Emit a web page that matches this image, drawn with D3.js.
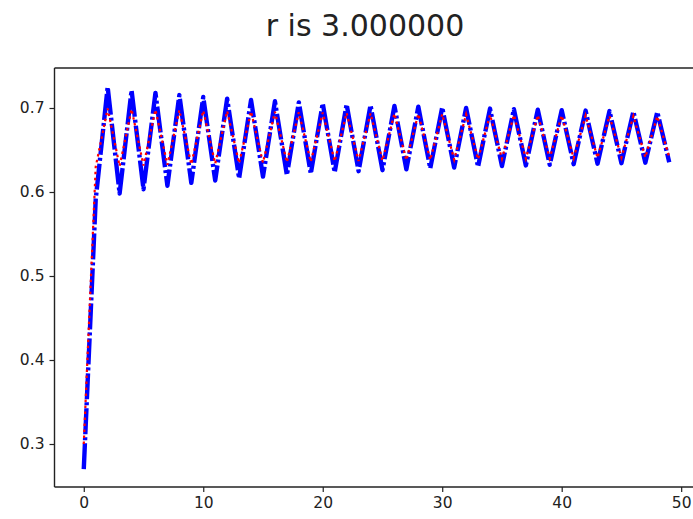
<!DOCTYPE html>
<html>
<head>
<meta charset="utf-8">
<script src="https://cdn.jsdelivr.net/npm/d3@7"></script>
<style>
  html, body { margin: 0; padding: 0; background: #fff; }
  svg { display: block; }
  text { font-family: "DejaVu Sans", sans-serif; }
</style>
</head>
<body>
<svg id="chart" width="693" height="519"></svg>
<script>
// ---- data ----
const titleText = "r is 3.000000";
const steps = d3.range(0, 50);
const seriesBlue = [
  0.2700, 0.5913, 0.7250, 0.5981, 0.7211, 0.6033, 0.7180, 0.6075, 0.7154, 0.6109,
  0.7131, 0.6137, 0.7112, 0.6162, 0.7095, 0.6183, 0.7080, 0.6202, 0.7067, 0.6219,
  0.7054, 0.6234, 0.7043, 0.6248, 0.7033, 0.6260, 0.7024, 0.6271, 0.7015, 0.6282,
  0.7007, 0.6291, 0.7000, 0.6300, 0.6993, 0.6309, 0.6986, 0.6316, 0.6980, 0.6324,
  0.6974, 0.6331, 0.6969, 0.6337, 0.6964, 0.6343, 0.6959, 0.6349, 0.6954, 0.6355
];
const seriesRed = [
  0.3000, 0.6300, 0.6993, 0.6308, 0.6986, 0.6316, 0.6980, 0.6324, 0.6974, 0.6330,
  0.6969, 0.6337, 0.6964, 0.6343, 0.6959, 0.6349, 0.6954, 0.6354, 0.6950, 0.6360,
  0.6945, 0.6365, 0.6941, 0.6369, 0.6937, 0.6374, 0.6934, 0.6378, 0.6930, 0.6382,
  0.6927, 0.6386, 0.6924, 0.6390, 0.6920, 0.6394, 0.6917, 0.6397, 0.6914, 0.6401,
  0.6912, 0.6404, 0.6909, 0.6407, 0.6906, 0.6410, 0.6904, 0.6413, 0.6901, 0.6416
];
const xTicks = [0, 10, 20, 30, 40, 50];
const yTicks = [0.3, 0.4, 0.5, 0.6, 0.7];

// ---- layout ----
const plot = { left: 54.5, right: 698.5, top: 68, bottom: 487 };
const svg = d3.select("#chart");

const x = d3.scaleLinear().domain([-2.45, 51.45]).range([plot.left, plot.right]);
const y = d3.scaleLinear().domain([0.24881, 0.74762]).range([plot.bottom, plot.top]);

// soft blur to mimic the reference's anti-aliasing
const defs = svg.append("defs");
defs.append("filter").attr("id", "soft")
  .attr("x", "-5%").attr("y", "-5%").attr("width", "110%").attr("height", "110%")
  .append("feGaussianBlur").attr("stdDeviation", 0.5);

// title
svg.append("text")
  .attr("x", 365).attr("y", 36)
  .attr("text-anchor", "middle")
  .attr("font-size", 30)
  .attr("fill", "#222")
  .text(titleText);

// lines
const line = (arr) => d3.line().x((d, i) => x(steps[i])).y(d => y(d))(arr);
const lines = svg.append("g").attr("filter", "url(#soft)");

lines.append("path")
  .attr("d", line(seriesBlue))
  .attr("fill", "none")
  .attr("stroke", "#0000ff")
  .attr("stroke-width", 4.4)
  .attr("stroke-dasharray", "26,3,3,3")
  .attr("stroke-linejoin", "round");

lines.append("path")
  .attr("d", line(seriesRed))
  .attr("fill", "none")
  .attr("stroke", "#ff0000")
  .attr("stroke-width", 2.2)
  .attr("stroke-dasharray", "2.5,3.5");

// axes
const xAxis = d3.axisBottom(x).tickValues(xTicks).tickFormat(d3.format("d")).tickSizeOuter(0).tickSize(5).tickPadding(5);
const yAxis = d3.axisLeft(y).tickValues(yTicks).tickFormat(d3.format(".1f")).tickSizeOuter(0).tickSize(5).tickPadding(5);

const gx = svg.append("g").attr("transform", `translate(0,${plot.bottom})`).call(xAxis);
const gy = svg.append("g").attr("transform", `translate(${plot.left},0)`).call(yAxis);
[gx, gy].forEach(g => {
  g.select(".domain").remove();
  g.selectAll(".tick line").attr("stroke", "#222").attr("stroke-width", 1.2);
  g.selectAll(".tick text").attr("font-size", 15.5).attr("fill", "#222").attr("font-family", "DejaVu Sans, sans-serif");
});

// spines (left, bottom, top; right lies outside the picture)
const spine = svg.append("g").attr("stroke", "#222").attr("stroke-width", 1.4).attr("fill", "none");
spine.append("line").attr("x1", plot.left).attr("x2", plot.left).attr("y1", plot.top).attr("y2", plot.bottom);
spine.append("line").attr("x1", plot.left).attr("x2", plot.right).attr("y1", plot.bottom).attr("y2", plot.bottom);
spine.append("line").attr("x1", plot.left).attr("x2", plot.right).attr("y1", plot.top).attr("y2", plot.top);
spine.append("line").attr("x1", plot.right).attr("x2", plot.right).attr("y1", plot.top).attr("y2", plot.bottom);
</script>
</body>
</html>
